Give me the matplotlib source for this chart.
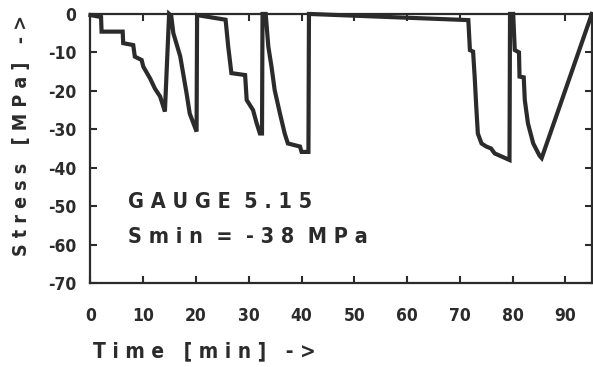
import matplotlib
matplotlib.use("Agg")
import matplotlib.pyplot as plt
from matplotlib import font_manager

names = {f.name for f in font_manager.fontManager.ttflist}
FONT = "Liberation Sans Narrow" if "Liberation Sans Narrow" in names else "DejaVu Sans"

time_min = [0, 2.0, 2.1, 6.1, 6.2, 8.1, 8.4, 9.7, 10.0, 11.3, 12.2, 13.2, 14.1, 14.9,
            15.3, 15.7, 17.0, 18.2, 18.8, 20.1, 20.2, 25.6,
            26.1, 26.7, 29.3, 29.6, 30.8, 31.5, 32.1, 32.5, 32.6,
            33.2, 33.7, 34.3, 34.9, 35.9, 36.8, 37.4, 39.7, 40.0, 41.3, 41.4,
            71.6, 71.9, 72.5, 72.8, 73.1, 73.4, 74.1, 75.0, 75.9, 76.6, 79.4, 79.5,
            80.1, 80.4, 81.2, 81.3, 82.1, 82.3, 82.9, 83.9, 85.1, 85.5, 95.0]
stress_mpa = [-0.3, -0.8, -4.6, -4.6, -7.6, -8.1, -11.1, -12.0, -13.7, -16.8, -19.4, -21.5, -25.4, 0,
              -0.5, -5.0, -11.0, -20.6, -25.9, -30.6, -0.3, -1.5,
              -8.5, -15.4, -15.9, -22.4, -25.0, -28.5, -31.1, -31.1, 0,
              0, -8.5, -13.7, -19.8, -25.9, -31.1, -33.7, -34.5, -35.9, -35.9, 0,
              -1.6, -9.4, -9.8, -16.3, -24.1, -31.1, -33.7, -34.5, -35.0, -36.3, -38.0, 0,
              0, -9.4, -10.0, -16.3, -16.5, -22.4, -28.5, -33.7, -36.9, -37.5, 0]

x_ticks = [0, 10, 20, 30, 40, 50, 60, 70, 80, 90]
y_ticks = [0, -10, -20, -30, -40, -50, -60, -70]

INK = "#2b2b2b"
TXT = dict(fontfamily=FONT, fontweight="bold", fontstretch="condensed", color=INK)

fig = plt.figure(figsize=(5.93, 3.67), dpi=100)
ax = fig.add_axes([0.1526, 0.229, 0.998 - 0.1526, 0.962 - 0.229])
ax.plot(time_min, stress_mpa, color=INK, lw=3.0, solid_joinstyle="miter", clip_on=False)
ax.set_xlim(0, 95)
ax.set_ylim(-70, 0)
ax.set_xticks(x_ticks)
ax.set_yticks(y_ticks)
ax.set_xticklabels([str(t) for t in x_ticks])
ax.set_yticklabels([str(t) for t in y_ticks])
for s in ax.spines.values():
    s.set_linewidth(1.6)
    s.set_color(INK)
ax.tick_params(direction="in", length=5, width=1.5, color=INK, top=True, right=True,
               labelsize=12.5, labelcolor=INK)
ax.tick_params(axis="x", pad=17)
ax.tick_params(axis="y", pad=10)
for lab in ax.get_xticklabels() + ax.get_yticklabels():
    lab.set_fontfamily(FONT)
    lab.set_fontweight("bold")
    lab.set_fontstretch("condensed")

fig.text(0.157, 0.027, "T i m e   [ m i n ]   - >", fontsize=15, ha="left", va="baseline", **TXT)
fig.text(0.037, 0.632, "S t r e s s   [ M P a ]   - >", fontsize=14, rotation=90,
         ha="center", va="center", **TXT)
ax.text(0.074, 0.279, "G A U G E  5 . 1 5", transform=ax.transAxes, fontsize=15.5,
        ha="left", va="baseline", **TXT)
ax.text(0.074, 0.149, "S m i n  =  - 3 8  M P a", transform=ax.transAxes, fontsize=15.5,
        ha="left", va="baseline", **TXT)

fig.savefig("out.png", dpi=100)
